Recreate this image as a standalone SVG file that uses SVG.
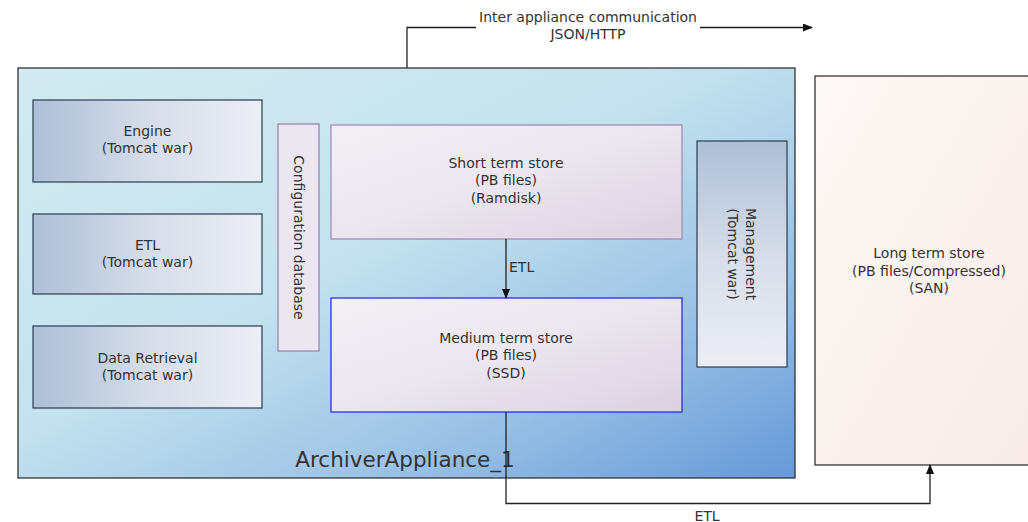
<svg xmlns="http://www.w3.org/2000/svg" width="1028" height="522" viewBox="0 0 1028 522">
  <defs>
    <linearGradient id="gAppliance" x1="0" y1="0" x2="1" y2="1">
      <stop offset="0" stop-color="#d3ebf0"/>
      <stop offset="0.45" stop-color="#c4e2ee"/>
      <stop offset="0.75" stop-color="#98bfe4"/>
      <stop offset="1" stop-color="#6699d8"/>
    </linearGradient>
    <linearGradient id="gWarH" x1="0" y1="0" x2="1" y2="0">
      <stop offset="0" stop-color="#adbfd6"/>
      <stop offset="0.5" stop-color="#d6dde9"/>
      <stop offset="1" stop-color="#eceef5"/>
    </linearGradient>
    <linearGradient id="gWarV" x1="0" y1="0" x2="0" y2="1">
      <stop offset="0" stop-color="#adbfd6"/>
      <stop offset="0.5" stop-color="#d6dde9"/>
      <stop offset="1" stop-color="#eceef5"/>
    </linearGradient>
    <linearGradient id="gStore" x1="0" y1="0" x2="1" y2="1">
      <stop offset="0" stop-color="#f2f0f5"/>
      <stop offset="0.5" stop-color="#ebe6ef"/>
      <stop offset="1" stop-color="#dbd1e1"/>
    </linearGradient>
    <linearGradient id="gLong" x1="0" y1="0" x2="1" y2="1">
      <stop offset="0" stop-color="#fdf9f6"/>
      <stop offset="1" stop-color="#f8ebe8"/>
    </linearGradient>
    <marker id="arrow" markerWidth="10" markerHeight="8" refX="9" refY="4" orient="auto" markerUnits="userSpaceOnUse">
      <path d="M0,0 L10,4 L0,8 Z" fill="#111"/>
    </marker>
  </defs>
  <style>
    text { font-family: "DejaVu Sans", Verdana, sans-serif; fill: #333; font-size: 14px; text-anchor: middle; }
    .war { fill: url(#gWarH); stroke: #36475a; stroke-width: 1.3; }
    .store { fill: url(#gStore); stroke: #a28db4; stroke-width: 1.3; }
    .conn { fill: none; stroke: #222; stroke-width: 1.3; }
  </style>

  <!-- appliance container -->
  <g id="appliance">
    <rect x="18" y="68" width="777" height="410" fill="url(#gAppliance)" stroke="#333" stroke-width="1.3"/>
    <text x="405" y="467" style="font-size:21.5px">ArchiverAppliance_1</text>
  </g>

  <g id="engine">
    <rect class="war" x="33" y="100" width="229" height="82"/>
    <text x="147.5" y="135.5">Engine</text>
    <text x="147.5" y="153">(Tomcat war)</text>
  </g>

  <g id="etl">
    <rect class="war" x="33" y="214" width="229" height="80"/>
    <text x="147.5" y="249.5">ETL</text>
    <text x="147.5" y="267">(Tomcat war)</text>
  </g>

  <g id="data-retrieval">
    <rect class="war" x="33" y="326" width="229" height="82"/>
    <text x="147.5" y="362.5">Data Retrieval</text>
    <text x="147.5" y="380">(Tomcat war)</text>
  </g>

  <g id="config-db">
    <rect x="278" y="124" width="41" height="227" fill="#ece6f0" stroke="#9b86b0" stroke-width="1.3"/>
    <text transform="translate(298.5 237.5) rotate(90)" y="5">Configuration database</text>
  </g>

  <g id="short-term">
    <rect class="store" x="331" y="125" width="351" height="114"/>
    <text x="506" y="167.5">Short term store</text>
    <text x="506" y="185">(PB files)</text>
    <text x="506" y="202.5">(Ramdisk)</text>
  </g>

  <g id="medium-term">
    <rect class="store" x="331" y="298" width="351" height="114" style="stroke:#2b2bef"/>
    <text x="506" y="342.5">Medium term store</text>
    <text x="506" y="360">(PB files)</text>
    <text x="506" y="377.5">(SSD)</text>
  </g>

  <g id="management">
    <rect x="697" y="141" width="90" height="226" fill="url(#gWarV)" stroke="#36475a" stroke-width="1.3"/>
    <text transform="translate(741.5 254) rotate(90)" y="-4">Management</text>
    <text transform="translate(741.5 254) rotate(90)" y="13.5">(Tomcat war)</text>
  </g>

  <g id="long-term">
    <rect x="815" y="76" width="222" height="389" fill="url(#gLong)" stroke="#333" stroke-width="1.3"/>
    <text x="929" y="257.5">Long term store</text>
    <text x="929" y="275.5">(PB files/Compressed)</text>
    <text x="929" y="292.5">(SAN)</text>
  </g>

  <!-- connectors -->
  <g id="connectors">
    <path class="conn" d="M407,68 V27.5 H812" marker-end="url(#arrow)"/>
    <rect x="476" y="8" width="224" height="36" fill="#fff"/>
    <text x="588" y="21.5">Inter appliance communication</text>
    <text x="588" y="39">JSON/HTTP</text>

    <path class="conn" d="M506,239 V298" marker-end="url(#arrow)"/>
    <text x="509" y="272" style="text-anchor:start">ETL</text>

    <path class="conn" d="M506,412 V503.5 H930 V465" marker-end="url(#arrow)"/>
    <text x="707" y="521">ETL</text>
  </g>
</svg>
